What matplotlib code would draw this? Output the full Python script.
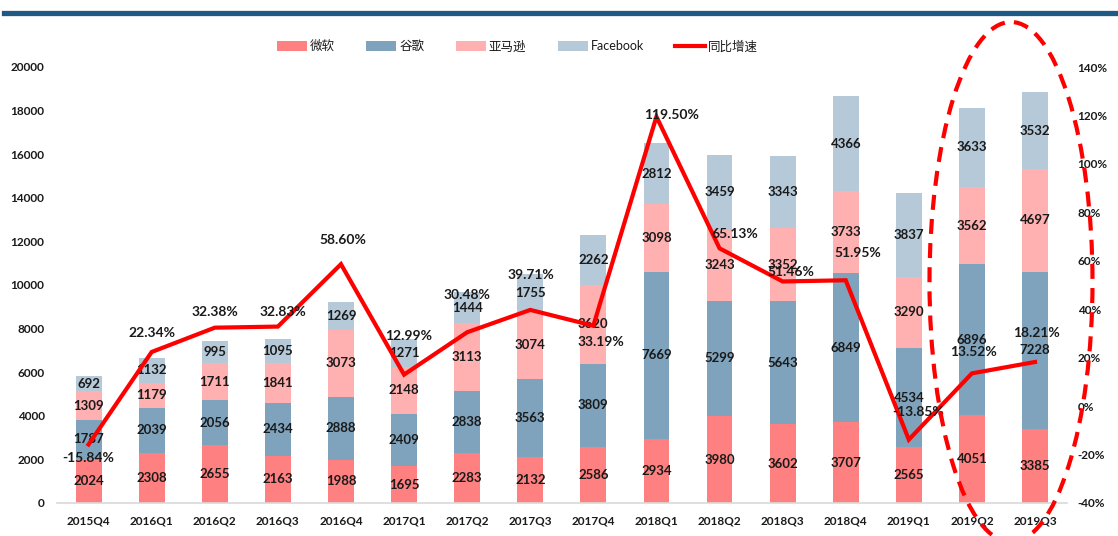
import matplotlib
matplotlib.use("Agg")
import matplotlib.pyplot as plt
from matplotlib.patches import Ellipse, Patch
from matplotlib.lines import Line2D
import numpy as np

plt.rcParams['font.family'] = ['Lato', 'Noto Sans CJK SC', 'DejaVu Sans']

quarters = ["2015Q4", "2016Q1", "2016Q2", "2016Q3", "2016Q4", "2017Q1", "2017Q2", "2017Q3",
            "2017Q4", "2018Q1", "2018Q2", "2018Q3", "2018Q4", "2019Q1", "2019Q2", "2019Q3"]
microsoft = [2024, 2308, 2655, 2163, 1988, 1695, 2283, 2132, 2586, 2934, 3980, 3602, 3707, 2565, 4051, 3385]
google = [1787, 2039, 2056, 2434, 2888, 2409, 2838, 3563, 3809, 7669, 5299, 5643, 6849, 4534, 6896, 7228]
amazon = [1309, 1179, 1711, 1841, 3073, 2148, 3113, 3074, 3620, 3098, 3243, 3352, 3733, 3290, 3562, 4697]
facebook = [692, 1132, 995, 1095, 1269, 1271, 1444, 1755, 2262, 2812, 3459, 3343, 4366, 3837, 3633, 3532]
growth = [-15.84, 22.34, 32.38, 32.83, 58.60, 12.99, 30.48, 39.71, 33.19, 119.50, 65.13, 51.46, 51.95, -13.85, 13.52, 18.21]
series_names = ["微软", "谷歌", "亚马逊", "Facebook"]
line_name = "同比增速"
left_ticks = [0, 2000, 4000, 6000, 8000, 10000, 12000, 14000, 16000, 18000, 20000]
right_ticks = [-40, -20, 0, 20, 40, 60, 80, 100, 120, 140]

# label offsets (pixels) for the growth labels
lbl_off = [(0, -14), (0, 19), (0, 16), (5, 15), (2, 24), (5, 39), (0, 37), (1, 35),
           (8, -16), (15, 2), (15, 14), (8, 9), (12, 27), (9, 28), (2, 21), (1, 29)]

colors = ["#FF8080", "#7FA3BC", "#FFB0B0", "#B5C9D8"]
text_c = "#1a1a1a"

fig = plt.figure(figsize=(11.18, 5.36), dpi=100)
ax = fig.add_axes([0.051, 0.0616, 0.903, 0.8134])
x = np.arange(len(quarters))
bottom = np.zeros(len(quarters))
for vals, c in zip([microsoft, google, amazon, facebook], colors):
    bars = ax.bar(x, vals, width=0.41, bottom=bottom, color=c, zorder=2)
    ax.bar_label(bars, labels=[str(v) for v in vals], label_type='center',
                 fontsize=9.5, fontweight='bold', color=text_c, zorder=3)
    bottom += np.array(vals)

ax.set_xlim(-0.5, len(quarters) - 0.5)
ax.set_ylim(0, 20000)
ax.set_yticks(left_ticks)
ax.set_yticklabels([str(t) for t in left_ticks])
ax.set_xticks(x)
ax.set_xticklabels(quarters)
ax.tick_params(axis='both', length=0, labelsize=8.5, colors=text_c)
ax.tick_params(axis='y', pad=9)
ax.tick_params(axis='x', pad=9)
for lab in ax.get_xticklabels() + ax.get_yticklabels():
    lab.set_fontweight('bold')
for s in ['top', 'left', 'right']:
    ax.spines[s].set_visible(False)
ax.spines['bottom'].set_color('#D9D9D9')
ax.spines['bottom'].set_linewidth(1.2)

ax2 = ax.twinx()
ax2.plot(x, growth, color='#FF0000', lw=3, zorder=5, solid_joinstyle='miter')
ax2.set_ylim(-40, 140)
ax2.set_yticks(right_ticks)
ax2.set_yticklabels([f"{t}%" for t in right_ticks])
ax2.tick_params(axis='y', length=0, labelsize=8.5, colors=text_c, pad=8)
for lab in ax2.get_yticklabels():
    lab.set_fontweight('bold')
for s in ax2.spines.values():
    s.set_visible(False)
for xi, g, (dx, dy) in zip(x, growth, lbl_off):
    ax2.annotate(f"{g:.2f}%", (xi, g), xytext=(dx * 0.72, dy * 0.72), textcoords='offset points',
                 ha='center', va='center', fontsize=10, fontweight='bold', color=text_c, zorder=6)

handles = [Patch(facecolor=c, edgecolor='none') for c in colors] + \
          [Line2D([0], [0], color='#FF0000', lw=3)]
fig.legend(handles, series_names + [line_name], loc='center', bbox_to_anchor=(0.463, 0.914),
           ncol=5, frameon=False, fontsize=9, handlelength=2.4, handleheight=0.8,
           handletextpad=0.25, columnspacing=2.5, labelcolor=text_c)

# top navy rule
fig.add_artist(Line2D([0.004, 1.0], [0.976, 0.976], transform=fig.transFigure,
                      color='#1F5A85', lw=3.8))

# dashed ellipse annotation
ell = Ellipse((1011 / 1118, 1 - 282 / 536), 163 / 1118, 520 / 536, transform=fig.transFigure,
              fill=False, edgecolor='#FF0000', lw=3, linestyle=(0, (3.6, 2.2)), zorder=10)
fig.add_artist(ell)

fig.savefig("out.png", dpi=100)
